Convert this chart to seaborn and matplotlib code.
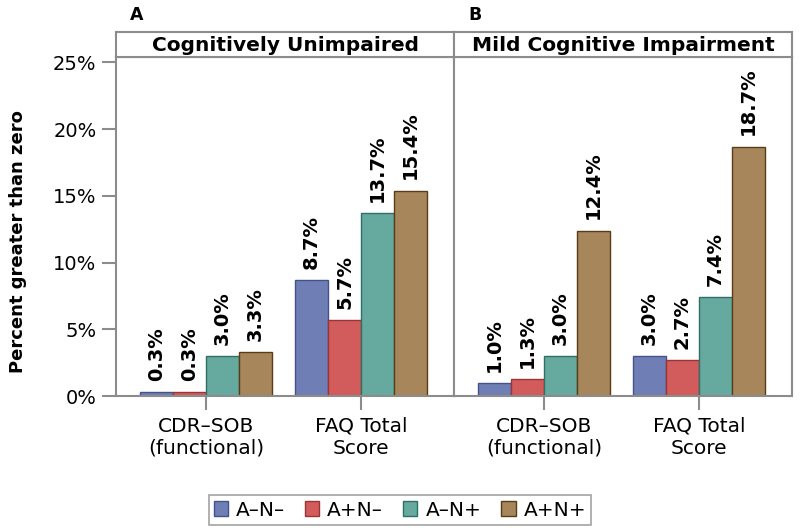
import matplotlib
matplotlib.use("Agg")
import matplotlib.pyplot as plt
import seaborn as sns
import pandas as pd
from matplotlib.patches import Patch
from matplotlib.ticker import FuncFormatter, FixedLocator

sns.set_theme(style="white")
plt.rcParams['font.family'] = ['DejaVu Sans']
plt.rcParams['text.color'] = 'black'
plt.rcParams['axes.labelcolor'] = 'black'
plt.rcParams['xtick.color'] = 'black'
plt.rcParams['ytick.color'] = 'black'

measures = ["CDR–SOB\n(functional)", "FAQ Total\nScore"]
groups = ["A–N–", "A+N–", "A–N+", "A+N+"]
panels = ["Cognitively Unimpaired", "Mild Cognitive Impairment"]
panel_letters = ["A", "B"]
cu_values = {"A–N–": [0.3, 8.7], "A+N–": [0.3, 5.7], "A–N+": [3.0, 13.7], "A+N+": [3.3, 15.4]}
mci_values = {"A–N–": [1.0, 3.0], "A+N–": [1.3, 2.7], "A–N+": [3.0, 7.4], "A+N+": [12.4, 18.7]}
y_ticks = [0, 5, 10, 15, 20, 25]

colors = ["#6F7EB4", "#D25B5C", "#65A99F", "#A8865B"]
edges = ["#44528A", "#9A3436", "#2F6F66", "#5A3D18"]
gray = "#8C8C8C"

W, H = 800, 528
fig = plt.figure(figsize=(8, 5.28), dpi=100)

def fx(px):
    return px / W

def fy(py):
    return (H - py) / H

ax_left = [116, 454]
ax_w = 338
plot_top, plot_bot, head_top = 57, 396, 32

for i, (panel, vals) in enumerate(zip(panels, [cu_values, mci_values])):
    rows = []
    for g in groups:
        for m, v in zip(measures, vals[g]):
            rows.append({"measure": m, "group": g, "value": v})
    df = pd.DataFrame(rows)
    ax = fig.add_axes([fx(ax_left[i]), fy(plot_bot), fx(ax_w), (plot_bot - plot_top) / H])
    sns.barplot(data=df, x="measure", y="value", hue="group", order=measures,
                hue_order=groups, palette=colors, saturation=1, width=0.85,
                ax=ax, legend=False, errorbar=None, linewidth=1.0)
    for c, ec in zip(ax.containers, edges):
        for p in c:
            p.set_edgecolor(ec)
        ax.bar_label(c, labels=[f"{p.get_height():.1f}%" for p in c], rotation=90,
                     padding=8, fontsize=14, fontweight="bold", color="black")
    ax.set_xlim(-0.58, 1.6)
    ax.set_ylim(0, 25.41)
    ax.set_xlabel("")
    ax.set_ylabel("")
    for s in ax.spines.values():
        s.set_color(gray)
        s.set_linewidth(1.5)
    ax.tick_params(axis="x", length=10, width=1.5, color=gray, labelsize=14.5, pad=5,
                   bottom=True, labelcolor="black")
    ax.yaxis.set_major_locator(FixedLocator(y_ticks))
    if i == 0:
        ax.yaxis.set_major_formatter(FuncFormatter(lambda v, p: f"{v:.0f}%"))
        ax.tick_params(axis="y", length=10, width=1.5, color=gray, labelsize=14, pad=4,
                       left=True, labelcolor="black")
        ax.set_ylabel("Percent greater than zero", fontsize=13, fontweight="bold")
        ax.yaxis.set_label_coords(-0.262, 0.455)
    else:
        ax.tick_params(axis="y", left=False, labelleft=False)
    # header strip
    hx = fig.add_axes([fx(ax_left[i]), fy(plot_top), fx(ax_w), (plot_top - head_top) / H])
    hx.set_xticks([])
    hx.set_yticks([])
    hx.set_facecolor("white")
    for s in hx.spines.values():
        s.set_color(gray)
        s.set_linewidth(1.5)
    hx.text(0.5, 0.45, panel, ha="center", va="center", fontsize=14.5, fontweight="bold",
            transform=hx.transAxes)
    fig.text(fx(ax_left[i] + 21), fy(15), panel_letters[i], ha="center", va="center",
             fontsize=12.5, fontweight="bold")

handles = [Patch(facecolor=c, edgecolor=e, label=g) for c, e, g in zip(colors, edges, groups)]
leg = fig.legend(handles=handles, loc="center", bbox_to_anchor=(fx(400), fy(510)), ncol=4,
                 frameon=True, fontsize=14.5, handlelength=0.7, handleheight=0.7,
                 handletextpad=0.4, columnspacing=1.0, borderpad=0.25, fancybox=False)
leg.get_frame().set_edgecolor(gray)
leg.get_frame().set_linewidth(1.2)

fig.savefig("out.png", dpi=100)
